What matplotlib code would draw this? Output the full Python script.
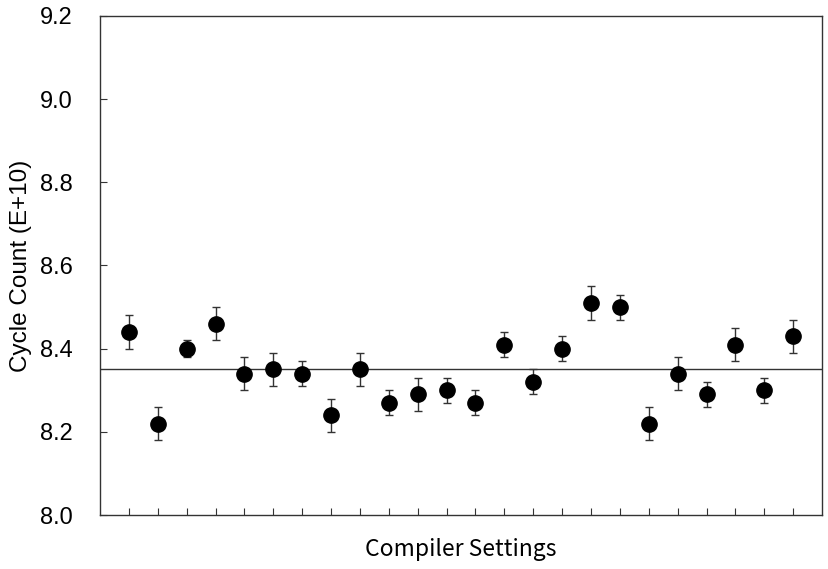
import numpy as np
import matplotlib
matplotlib.use("Agg")
import matplotlib.pyplot as plt

plt.rcParams['font.family'] = 'sans-serif'
plt.rcParams['font.sans-serif'] = ['Liberation Sans']

# data (cycle count, E+10)
settings = list(range(1, 25))
cycles = [8.44, 8.22, 8.40, 8.46, 8.34, 8.35, 8.34, 8.24, 8.35, 8.27, 8.29, 8.30,
          8.27, 8.41, 8.32, 8.40, 8.51, 8.50, 8.22, 8.34, 8.29, 8.41, 8.30, 8.43]
errs = [0.04, 0.04, 0.02, 0.04, 0.04, 0.04, 0.03, 0.04, 0.04, 0.03, 0.04, 0.03,
        0.03, 0.03, 0.03, 0.03, 0.04, 0.03, 0.04, 0.04, 0.03, 0.04, 0.03, 0.04]
mean_line = 8.35
yticks = [8.0, 8.2, 8.4, 8.6, 8.8, 9.0, 9.2]

fig = plt.figure(figsize=(8.29, 5.69), dpi=100)
ax = fig.add_axes([0.1206, 0.0949, 0.871, 0.877])

ax.axhline(mean_line, color='#333333', lw=1.0, zorder=1)
ax.errorbar(settings, cycles, yerr=errs, fmt='o', color='black', ms=11,
            ecolor='#333333', elinewidth=1.0, capsize=3, capthick=1.0, zorder=3)

ax.set_xlim(0, 25)
ax.set_ylim(8.0, 9.2)
ax.set_yticks(yticks)
ax.set_yticklabels(['%.1f' % v for v in yticks])
ax.set_xticks(settings)
ax.set_xticklabels([])
ax.tick_params(axis='y', direction='in', length=5, pad=19.5, labelsize=17, color='#333333')
ax.tick_params(axis='x', direction='in', length=5, color='#333333')
for s in ax.spines.values():
    s.set_color('#333333')
    s.set_linewidth(1.0)

ax.set_ylabel('Cycle Count (E+10)', fontsize=17.5, labelpad=6)
ax.set_xlabel('Compiler Settings', fontsize=16.5, labelpad=13,
              family=['Noto Sans CJK JP', 'DejaVu Sans'])

fig.savefig('out.png', dpi=100)
